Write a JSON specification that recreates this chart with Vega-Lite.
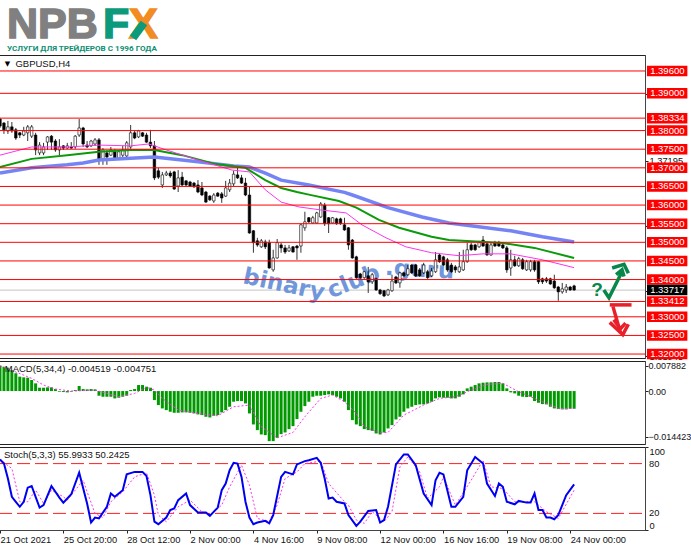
{"$schema":"https://vega.github.io/schema/vega-lite/v6.json","background":"white","padding":{"left":-8,"top":0,"right":0,"bottom":0},"spacing":3,"bounds":"flush",
"config":{"view":{"stroke":"#222","strokeWidth":1},"font":"Liberation Sans","axis":{"grid":false,"title":null,"labelFont":"Liberation Sans","labelFontSize":9.3,"labelColor":"#111","tickColor":"#222","tickSize":3,"labelPadding":1,"domainColor":"#444","labelOverlap":false,"labelBound":false}},
"datasets":{
"bars":[
{"i":0,"o":1.3831,"h":1.3834,"l":1.3807,"c":1.3812},{"i":1,"o":1.3820,"h":1.3823,"l":1.3791,"c":1.3802},{"i":2,"o":1.3799,"h":1.3826,"l":1.3791,"c":1.3810},{"i":3,"o":1.3810,"h":1.3823,"l":1.3794,"c":1.3799},{"i":4,"o":1.3802,"h":1.3807,"l":1.3775,"c":1.3780},{"i":5,"o":1.3794,"h":1.3796,"l":1.3780,"c":1.3788},{"i":6,"o":1.3788,"h":1.3810,"l":1.3785,"c":1.3799},{"i":7,"o":1.3794,"h":1.3815,"l":1.3772,"c":1.3810},{"i":8,"o":1.3785,"h":1.3815,"l":1.3780,"c":1.3810},{"i":9,"o":1.3788,"h":1.3794,"l":1.3734,"c":1.3748},
{"i":10,"o":1.3740,"h":1.3769,"l":1.3734,"c":1.3761},{"i":11,"o":1.3740,"h":1.3767,"l":1.3734,"c":1.3756},{"i":12,"o":1.3769,"h":1.3785,"l":1.3748,"c":1.3783},{"i":13,"o":1.3785,"h":1.3788,"l":1.3748,"c":1.3769},{"i":14,"o":1.3772,"h":1.3777,"l":1.3743,"c":1.3748},{"i":15,"o":1.3748,"h":1.3777,"l":1.3734,"c":1.3756},{"i":16,"o":1.3759,"h":1.3761,"l":1.3748,"c":1.3753},{"i":17,"o":1.3753,"h":1.3767,"l":1.3751,"c":1.3759},{"i":18,"o":1.3756,"h":1.3769,"l":1.3751,"c":1.3753},{"i":19,"o":1.3756,"h":1.3788,"l":1.3751,"c":1.3785},
{"i":20,"o":1.3788,"h":1.3831,"l":1.3783,"c":1.3807},{"i":21,"o":1.3807,"h":1.3810,"l":1.3756,"c":1.3764},{"i":22,"o":1.3761,"h":1.3772,"l":1.3753,"c":1.3756},{"i":23,"o":1.3759,"h":1.3775,"l":1.3756,"c":1.3772},{"i":24,"o":1.3764,"h":1.3780,"l":1.3759,"c":1.3775},{"i":25,"o":1.3775,"h":1.3780,"l":1.3708,"c":1.3721},{"i":26,"o":1.3721,"h":1.3753,"l":1.3708,"c":1.3748},{"i":27,"o":1.3740,"h":1.3748,"l":1.3708,"c":1.3729},{"i":28,"o":1.3734,"h":1.3756,"l":1.3732,"c":1.3748},{"i":29,"o":1.3743,"h":1.3751,"l":1.3724,"c":1.3726},
{"i":30,"o":1.3726,"h":1.3745,"l":1.3724,"c":1.3743},{"i":31,"o":1.3734,"h":1.3759,"l":1.3721,"c":1.3748},{"i":32,"o":1.3732,"h":1.3772,"l":1.3729,"c":1.3767},{"i":33,"o":1.3756,"h":1.3815,"l":1.3751,"c":1.3794},{"i":34,"o":1.3794,"h":1.3799,"l":1.3777,"c":1.3780},{"i":35,"o":1.3783,"h":1.3802,"l":1.3780,"c":1.3799},{"i":36,"o":1.3794,"h":1.3796,"l":1.3783,"c":1.3785},{"i":37,"o":1.3788,"h":1.3794,"l":1.3767,"c":1.3769},{"i":38,"o":1.3769,"h":1.3802,"l":1.3753,"c":1.3759},{"i":39,"o":1.3759,"h":1.3772,"l":1.3667,"c":1.3673},
{"i":40,"o":1.3692,"h":1.3700,"l":1.3670,"c":1.3675},{"i":41,"o":1.3654,"h":1.3689,"l":1.3646,"c":1.3681},{"i":42,"o":1.3681,"h":1.3692,"l":1.3678,"c":1.3686},{"i":43,"o":1.3686,"h":1.3692,"l":1.3673,"c":1.3678},{"i":44,"o":1.3689,"h":1.3692,"l":1.3641,"c":1.3643},{"i":45,"o":1.3651,"h":1.3694,"l":1.3635,"c":1.3673},{"i":46,"o":1.3675,"h":1.3689,"l":1.3651,"c":1.3654},{"i":47,"o":1.3665,"h":1.3667,"l":1.3651,"c":1.3654},{"i":48,"o":1.3662,"h":1.3665,"l":1.3649,"c":1.3651},{"i":49,"o":1.3659,"h":1.3662,"l":1.3646,"c":1.3649},
{"i":50,"o":1.3654,"h":1.3667,"l":1.3632,"c":1.3635},{"i":51,"o":1.3646,"h":1.3662,"l":1.3624,"c":1.3627},{"i":52,"o":1.3635,"h":1.3638,"l":1.3606,"c":1.3608},{"i":53,"o":1.3624,"h":1.3627,"l":1.3611,"c":1.3614},{"i":54,"o":1.3611,"h":1.3632,"l":1.3606,"c":1.3627},{"i":55,"o":1.3632,"h":1.3635,"l":1.3622,"c":1.3624},{"i":56,"o":1.3630,"h":1.3635,"l":1.3606,"c":1.3619},{"i":57,"o":1.3624,"h":1.3665,"l":1.3622,"c":1.3646},{"i":58,"o":1.3641,"h":1.3670,"l":1.3635,"c":1.3659},{"i":59,"o":1.3657,"h":1.3692,"l":1.3651,"c":1.3683},
{"i":60,"o":1.3681,"h":1.3700,"l":1.3670,"c":1.3673},{"i":61,"o":1.3673,"h":1.3681,"l":1.3657,"c":1.3659},{"i":62,"o":1.3659,"h":1.3673,"l":1.3624,"c":1.3627},{"i":63,"o":1.3627,"h":1.3651,"l":1.3523,"c":1.3525},{"i":64,"o":1.3531,"h":1.3533,"l":1.3472,"c":1.3499},{"i":65,"o":1.3504,"h":1.3512,"l":1.3488,"c":1.3493},{"i":66,"o":1.3488,"h":1.3509,"l":1.3485,"c":1.3504},{"i":67,"o":1.3501,"h":1.3507,"l":1.3482,"c":1.3488},{"i":68,"o":1.3499,"h":1.3507,"l":1.3429,"c":1.3431},{"i":69,"o":1.3426,"h":1.3480,"l":1.3421,"c":1.3458},
{"i":70,"o":1.3458,"h":1.3509,"l":1.3456,"c":1.3499},{"i":71,"o":1.3493,"h":1.3499,"l":1.3472,"c":1.3485},{"i":72,"o":1.3485,"h":1.3493,"l":1.3469,"c":1.3474},{"i":73,"o":1.3477,"h":1.3493,"l":1.3474,"c":1.3485},{"i":74,"o":1.3488,"h":1.3490,"l":1.3472,"c":1.3474},{"i":75,"o":1.3490,"h":1.3493,"l":1.3453,"c":1.3485},{"i":76,"o":1.3490,"h":1.3550,"l":1.3472,"c":1.3547},{"i":77,"o":1.3539,"h":1.3582,"l":1.3531,"c":1.3555},{"i":78,"o":1.3566,"h":1.3568,"l":1.3552,"c":1.3555},{"i":79,"o":1.3552,"h":1.3571,"l":1.3550,"c":1.3566},
{"i":80,"o":1.3552,"h":1.3582,"l":1.3550,"c":1.3579},{"i":81,"o":1.3568,"h":1.3608,"l":1.3566,"c":1.3603},{"i":82,"o":1.3600,"h":1.3606,"l":1.3544,"c":1.3550},{"i":83,"o":1.3566,"h":1.3568,"l":1.3525,"c":1.3550},{"i":84,"o":1.3552,"h":1.3568,"l":1.3550,"c":1.3566},{"i":85,"o":1.3563,"h":1.3566,"l":1.3547,"c":1.3550},{"i":86,"o":1.3563,"h":1.3566,"l":1.3547,"c":1.3550},{"i":87,"o":1.3547,"h":1.3566,"l":1.3531,"c":1.3533},{"i":88,"o":1.3539,"h":1.3541,"l":1.3480,"c":1.3493},{"i":89,"o":1.3506,"h":1.3509,"l":1.3456,"c":1.3458},
{"i":90,"o":1.3461,"h":1.3464,"l":1.3402,"c":1.3405},{"i":91,"o":1.3415,"h":1.3418,"l":1.3402,"c":1.3405},{"i":92,"o":1.3405,"h":1.3423,"l":1.3402,"c":1.3421},{"i":93,"o":1.3410,"h":1.3434,"l":1.3364,"c":1.3394},{"i":94,"o":1.3394,"h":1.3418,"l":1.3388,"c":1.3413},{"i":95,"o":1.3402,"h":1.3405,"l":1.3370,"c":1.3372},{"i":96,"o":1.3372,"h":1.3375,"l":1.3359,"c":1.3362},{"i":97,"o":1.3370,"h":1.3372,"l":1.3353,"c":1.3356},{"i":98,"o":1.3359,"h":1.3375,"l":1.3356,"c":1.3372},{"i":99,"o":1.3370,"h":1.3413,"l":1.3367,"c":1.3396},
{"i":100,"o":1.3407,"h":1.3410,"l":1.3388,"c":1.3391},{"i":101,"o":1.3391,"h":1.3421,"l":1.3378,"c":1.3418},{"i":102,"o":1.3418,"h":1.3421,"l":1.3407,"c":1.3410},{"i":103,"o":1.3413,"h":1.3439,"l":1.3410,"c":1.3429},{"i":104,"o":1.3439,"h":1.3442,"l":1.3415,"c":1.3418},{"i":105,"o":1.3439,"h":1.3442,"l":1.3407,"c":1.3410},{"i":106,"o":1.3426,"h":1.3431,"l":1.3407,"c":1.3410},{"i":107,"o":1.3418,"h":1.3445,"l":1.3415,"c":1.3439},{"i":108,"o":1.3421,"h":1.3426,"l":1.3402,"c":1.3405},{"i":109,"o":1.3410,"h":1.3431,"l":1.3407,"c":1.3423},
{"i":110,"o":1.3421,"h":1.3474,"l":1.3418,"c":1.3453},{"i":111,"o":1.3466,"h":1.3469,"l":1.3445,"c":1.3448},{"i":112,"o":1.3461,"h":1.3464,"l":1.3437,"c":1.3439},{"i":113,"o":1.3453,"h":1.3458,"l":1.3421,"c":1.3426},{"i":114,"o":1.3439,"h":1.3445,"l":1.3418,"c":1.3421},{"i":115,"o":1.3434,"h":1.3439,"l":1.3418,"c":1.3426},{"i":116,"o":1.3421,"h":1.3474,"l":1.3418,"c":1.3434},{"i":117,"o":1.3426,"h":1.3480,"l":1.3423,"c":1.3448},{"i":118,"o":1.3448,"h":1.3499,"l":1.3445,"c":1.3480},{"i":119,"o":1.3493,"h":1.3499,"l":1.3477,"c":1.3480},
{"i":120,"o":1.3493,"h":1.3496,"l":1.3477,"c":1.3480},{"i":121,"o":1.3488,"h":1.3504,"l":1.3485,"c":1.3499},{"i":122,"o":1.3506,"h":1.3517,"l":1.3488,"c":1.3490},{"i":123,"o":1.3496,"h":1.3501,"l":1.3464,"c":1.3466},{"i":124,"o":1.3466,"h":1.3499,"l":1.3464,"c":1.3493},{"i":125,"o":1.3499,"h":1.3504,"l":1.3488,"c":1.3490},{"i":126,"o":1.3499,"h":1.3504,"l":1.3488,"c":1.3490},{"i":127,"o":1.3493,"h":1.3499,"l":1.3482,"c":1.3485},{"i":128,"o":1.3485,"h":1.3490,"l":1.3418,"c":1.3426},{"i":129,"o":1.3431,"h":1.3480,"l":1.3410,"c":1.3453},
{"i":130,"o":1.3453,"h":1.3464,"l":1.3434,"c":1.3437},{"i":131,"o":1.3437,"h":1.3461,"l":1.3434,"c":1.3456},{"i":132,"o":1.3453,"h":1.3458,"l":1.3426,"c":1.3429},{"i":133,"o":1.3426,"h":1.3453,"l":1.3423,"c":1.3448},{"i":134,"o":1.3426,"h":1.3453,"l":1.3421,"c":1.3448},{"i":135,"o":1.3448,"h":1.3453,"l":1.3421,"c":1.3426},{"i":136,"o":1.3448,"h":1.3450,"l":1.3388,"c":1.3394},{"i":137,"o":1.3402,"h":1.3405,"l":1.3388,"c":1.3394},{"i":138,"o":1.3402,"h":1.3407,"l":1.3391,"c":1.3396},{"i":139,"o":1.3402,"h":1.3405,"l":1.3386,"c":1.3388},
{"i":140,"o":1.3396,"h":1.3413,"l":1.3375,"c":1.3378},{"i":141,"o":1.3380,"h":1.3383,"l":1.3343,"c":1.3367},{"i":142,"o":1.3367,"h":1.3391,"l":1.3362,"c":1.3375},{"i":143,"o":1.3372,"h":1.3388,"l":1.3364,"c":1.3380},{"i":144,"o":1.3380,"h":1.3383,"l":1.3370,"c":1.3372},{"i":145,"o":1.3383,"h":1.3386,"l":1.3370,"c":1.3372}],
"blue":[{"i":0,"p":1.3686},{"i":8,"p":1.3700},{"i":17,"p":1.3708},{"i":21,"p":1.3713},{"i":25,"p":1.3721},{"i":33,"p":1.3726},{"i":39,"p":1.3729},{"i":50,"p":1.3716},{"i":59,"p":1.3705},{"i":63,"p":1.3702},{"i":67,"p":1.3686},{"i":71,"p":1.3667},{"i":78,"p":1.3654},{"i":87,"p":1.3634},{"i":89,"p":1.3627},{"i":98,"p":1.3593},{"i":106.6,"p":1.3568},{"i":113.4,"p":1.3552},{"i":129,"p":1.3531},{"i":137,"p":1.3515},{"i":145,"p":1.3501}],
"green":[{"i":0,"p":1.3702},{"i":8,"p":1.3724},{"i":17,"p":1.3734},{"i":25,"p":1.3743},{"i":33,"p":1.3748},{"i":39,"p":1.3748},{"i":46,"p":1.3734},{"i":54.5,"p":1.3710},{"i":62,"p":1.3700},{"i":67,"p":1.3667},{"i":71,"p":1.3646},{"i":75,"p":1.3635},{"i":78,"p":1.3628},{"i":85.6,"p":1.3611},{"i":90,"p":1.3593},{"i":95.7,"p":1.3560},{"i":100.8,"p":1.3539},{"i":109,"p":1.3515},{"i":113.4,"p":1.3506},{"i":127,"p":1.3498},{"i":135,"p":1.3485},{"i":145,"p":1.3458}],
"pink":[{"i":0,"p":1.3734},{"i":8,"p":1.3756},{"i":17,"p":1.3756},{"i":25,"p":1.3761},{"i":33,"p":1.3759},{"i":37.6,"p":1.3764},{"i":42,"p":1.3748},{"i":50,"p":1.3721},{"i":58.6,"p":1.3694},{"i":63,"p":1.3689},{"i":67,"p":1.3641},{"i":71,"p":1.3608},{"i":75.5,"p":1.3595},{"i":81,"p":1.3587},{"i":87.4,"p":1.3579},{"i":91.4,"p":1.3547},{"i":97.5,"p":1.3512},{"i":102.5,"p":1.3488},{"i":109,"p":1.3472},{"i":116,"p":1.3464},{"i":122,"p":1.3469},{"i":129,"p":1.3469},{"i":137,"p":1.3453},{"i":145,"p":1.3432}],
"levels":[{"p":1.396,"t":"1.39600"},{"p":1.39,"t":"1.39000"},{"p":1.38334,"t":"1.38334"},{"p":1.38,"t":"1.38000"},{"p":1.375,"t":"1.37500"},{"p":1.37,"t":"1.37000"},{"p":1.365,"t":"1.36500"},{"p":1.36,"t":"1.36000"},{"p":1.355,"t":"1.35500"},{"p":1.35,"t":"1.35000"},{"p":1.345,"t":"1.34500"},{"p":1.34,"t":"1.34000"},{"p":1.33412,"t":"1.33412"},{"p":1.33,"t":"1.33000"},{"p":1.325,"t":"1.32500"},{"p":1.32,"t":"1.32000"}],
"tags":[{"p":1.396,"t":"1.39600"},{"p":1.39,"t":"1.39000"},{"p":1.38334,"t":"1.38334"},{"p":1.38,"t":"1.38000"},{"p":1.375,"t":"1.37500"},{"p":1.37,"t":"1.37000"},{"p":1.365,"t":"1.36500"},{"p":1.36,"t":"1.36000"},{"p":1.355,"t":"1.35500"},{"p":1.35,"t":"1.35000"},{"p":1.345,"t":"1.34500"},{"p":1.34,"t":"1.34000"},{"p":1.33717,"t":"1.33717"},{"p":1.33412,"t":"1.33412"},{"p":1.33,"t":"1.33000"},{"p":1.325,"t":"1.32500"},{"p":1.32,"t":"1.32000"}],
"macd":[{"i":0,"m":0.00798},{"i":1,"m":0.00767},{"i":2,"m":0.00735},{"i":3,"m":0.00662},{"i":4,"m":0.00557},{"i":5,"m":0.00452},{"i":6,"m":0.00431},{"i":7,"m":0.0042},{"i":8,"m":0.00347},{"i":9,"m":0.00242},{"i":10,"m":0.00105},{"i":11,"m":0.00105},{"i":12,"m":0.00116},{"i":13,"m":0.00116},{"i":14,"m":0.00063},{"i":15,"m":-0.00021},{"i":16,"m":-0.00032},{"i":17,"m":-0.00042},{"i":18,"m":-0.00021},{"i":19,"m":0.00032},{"i":20,"m":0.00158},{"i":21,"m":0.00063},{"i":22,"m":0.00053},{"i":23,"m":0.00063},{"i":24,"m":0.00053},{"i":25,"m":-0.00147},{"i":26,"m":-0.00179},{"i":27,"m":-0.00179},{"i":28,"m":-0.00179},{"i":29,"m":-0.00231},{"i":30,"m":-0.0021},{"i":31,"m":-0.00179},{"i":32,"m":-0.00147},{"i":33,"m":0.00032},{"i":34,"m":0.00063},{"i":35,"m":0.00189},{"i":36,"m":0.00189},{"i":37,"m":0.00137},{"i":38,"m":0.00105},{"i":39,"m":-0.00284},{"i":40,"m":-0.00441},{"i":41,"m":-0.00546},{"i":42,"m":-0.00599},{"i":43,"m":-0.00651},{"i":44,"m":-0.00683},{"i":45,"m":-0.00683},{"i":46,"m":-0.00672},{"i":47,"m":-0.00672},{"i":48,"m":-0.00683},{"i":49,"m":-0.00704},{"i":50,"m":-0.00735},{"i":51,"m":-0.00756},{"i":52,"m":-0.00809},{"i":53,"m":-0.0083},{"i":54,"m":-0.00777},{"i":55,"m":-0.00756},{"i":56,"m":-0.00672},{"i":57,"m":-0.00599},{"i":58,"m":-0.00494},{"i":59,"m":-0.00336},{"i":60,"m":-0.00315},{"i":61,"m":-0.00315},{"i":62,"m":-0.00389},{"i":63,"m":-0.00704},{"i":64,"m":-0.0105},{"i":65,"m":-0.01229},{"i":66,"m":-0.01365},{"i":67,"m":-0.01386},{"i":68,"m":-0.01575},{"i":69,"m":-0.01575},{"i":70,"m":-0.0147},{"i":71,"m":-0.01355},{"i":72,"m":-0.01302},{"i":73,"m":-0.01197},{"i":74,"m":-0.01103},{"i":75,"m":-0.00882},{"i":76,"m":-0.00651},{"i":77,"m":-0.00473},{"i":78,"m":-0.00336},{"i":79,"m":-0.00179},{"i":80,"m":-0.00147},{"i":81,"m":-0.00147},{"i":82,"m":-0.00126},{"i":83,"m":-0.00105},{"i":84,"m":-0.00126},{"i":85,"m":-0.00179},{"i":86,"m":-0.00231},{"i":87,"m":-0.00336},{"i":88,"m":-0.00599},{"i":89,"m":-0.00914},{"i":90,"m":-0.0105},{"i":91,"m":-0.01103},{"i":92,"m":-0.01197},{"i":93,"m":-0.01229},{"i":94,"m":-0.0125},{"i":95,"m":-0.01334},{"i":96,"m":-0.01365},{"i":97,"m":-0.01302},{"i":98,"m":-0.01176},{"i":99,"m":-0.01071},{"i":100,"m":-0.00893},{"i":101,"m":-0.00809},{"i":102,"m":-0.00651},{"i":103,"m":-0.00546},{"i":104,"m":-0.00494},{"i":105,"m":-0.00441},{"i":106,"m":-0.0042},{"i":107,"m":-0.0042},{"i":108,"m":-0.00389},{"i":109,"m":-0.00336},{"i":110,"m":-0.00231},{"i":111,"m":-0.002},{"i":112,"m":-0.0021},{"i":113,"m":-0.0021},{"i":114,"m":-0.00231},{"i":115,"m":-0.00231},{"i":116,"m":-0.00179},{"i":117,"m":-0.00105},{"i":118,"m":0.00084},{"i":119,"m":0.00137},{"i":120,"m":0.00189},{"i":121,"m":0.00242},{"i":122,"m":0.00263},{"i":123,"m":0.00273},{"i":124,"m":0.00273},{"i":125,"m":0.00284},{"i":126,"m":0.00284},{"i":127,"m":0.00242},{"i":128,"m":0.00084},{"i":129,"m":-0.00042},{"i":130,"m":-0.00074},{"i":131,"m":-0.00147},{"i":132,"m":-0.00179},{"i":133,"m":-0.00189},{"i":134,"m":-0.00179},{"i":135,"m":-0.00315},{"i":136,"m":-0.00368},{"i":137,"m":-0.0041},{"i":138,"m":-0.0042},{"i":139,"m":-0.00494},{"i":140,"m":-0.00546},{"i":141,"m":-0.00567},{"i":142,"m":-0.00578},{"i":143,"m":-0.00578},{"i":144,"m":-0.00557},{"i":145,"m":-0.00557}],
"signal":[{"i":0,"s":0.00798},{"i":8,"s":0.00399},{"i":11,"s":0.00189},{"i":14,"s":0.00063},{"i":18,"s":0},{"i":24,"s":0.00032},{"i":27,"s":-0.00074},{"i":30,"s":-0.00179},{"i":34,"s":-0.00074},{"i":37,"s":0.00116},{"i":39,"s":0.00032},{"i":41,"s":-0.00231},{"i":45,"s":-0.00599},{"i":50,"s":-0.00704},{"i":55,"s":-0.00777},{"i":59,"s":-0.00494},{"i":63,"s":-0.00441},{"i":66,"s":-0.01124},{"i":70,"s":-0.0147},{"i":74,"s":-0.01302},{"i":77,"s":-0.00809},{"i":81,"s":-0.00231},{"i":84,"s":-0.00126},{"i":87,"s":-0.00336},{"i":90,"s":-0.00704},{"i":92,"s":-0.01124},{"i":96,"s":-0.01313},{"i":98,"s":-0.01302},{"i":102,"s":-0.00756},{"i":107,"s":-0.00441},{"i":111,"s":-0.00231},{"i":115,"s":-0.00179},{"i":119,"s":0.00032},{"i":123,"s":0.0021},{"i":127,"s":0.00242},{"i":131,"s":-0.00021},{"i":136,"s":-0.00284},{"i":141,"s":-0.00546},{"i":145,"s":-0.00546}],
"k":[{"i":0,"v":85},{"i":1,"v":80},{"i":2,"v":62},{"i":3,"v":40},{"i":4,"v":34},{"i":5,"v":28},{"i":6,"v":34},{"i":7,"v":51},{"i":8,"v":53},{"i":9,"v":40},{"i":10,"v":27},{"i":11,"v":30},{"i":13,"v":53},{"i":15,"v":39},{"i":16,"v":33},{"i":17,"v":38},{"i":18,"v":43},{"i":20,"v":69},{"i":22,"v":32},{"i":23,"v":9},{"i":24,"v":15},{"i":25,"v":14},{"i":27,"v":28},{"i":28,"v":44},{"i":29,"v":40},{"i":31,"v":48},{"i":32,"v":67},{"i":34,"v":70},{"i":36,"v":70},{"i":37,"v":65},{"i":38,"v":42},{"i":39,"v":10},{"i":40,"v":7},{"i":42,"v":15},{"i":43,"v":24},{"i":44,"v":26},{"i":45,"v":36},{"i":47,"v":44},{"i":48,"v":30},{"i":50,"v":21},{"i":52,"v":21},{"i":53,"v":17},{"i":55,"v":27},{"i":56,"v":48},{"i":57,"v":56},{"i":58,"v":72},{"i":59,"v":81},{"i":60,"v":80},{"i":61,"v":64},{"i":62,"v":34},{"i":63,"v":15},{"i":64,"v":7},{"i":65,"v":9},{"i":67,"v":11},{"i":68,"v":8},{"i":69,"v":18},{"i":71,"v":64},{"i":72,"v":70},{"i":74,"v":67},{"i":75,"v":79},{"i":77,"v":83},{"i":78,"v":84},{"i":80,"v":87},{"i":81,"v":81},{"i":82,"v":62},{"i":83,"v":38},{"i":84,"v":39},{"i":85,"v":34},{"i":87,"v":32},{"i":88,"v":18},{"i":90,"v":5},{"i":91,"v":10},{"i":93,"v":23},{"i":95,"v":24},{"i":96,"v":9},{"i":97,"v":12},{"i":98,"v":28},{"i":100,"v":79},{"i":102,"v":91},{"i":103,"v":91},{"i":105,"v":78},{"i":107,"v":44},{"i":109,"v":30},{"i":110,"v":60},{"i":111,"v":69},{"i":112,"v":67},{"i":114,"v":28},{"i":115,"v":28},{"i":117,"v":40},{"i":118,"v":72},{"i":120,"v":88},{"i":122,"v":80},{"i":123,"v":56},{"i":125,"v":41},{"i":126,"v":56},{"i":127,"v":52},{"i":128,"v":34},{"i":130,"v":31},{"i":131,"v":35},{"i":133,"v":33},{"i":134,"v":33},{"i":135,"v":44},{"i":136,"v":24},{"i":137,"v":24},{"i":138,"v":15},{"i":139,"v":15},{"i":140,"v":13},{"i":141,"v":18},{"i":143,"v":42},{"i":145,"v":55}],
"d":[{"i":0,"v":85},{"i":3,"v":74},{"i":5,"v":34},{"i":7,"v":34},{"i":9,"v":48},{"i":11,"v":32},{"i":13,"v":48},{"i":16,"v":40},{"i":17,"v":36},{"i":21,"v":60},{"i":22,"v":46},{"i":24,"v":20},{"i":26,"v":15},{"i":28,"v":34},{"i":31,"v":46},{"i":34,"v":64},{"i":37,"v":69},{"i":39,"v":42},{"i":40,"v":18},{"i":42,"v":10},{"i":45,"v":28},{"i":48,"v":36},{"i":51,"v":22},{"i":53,"v":18},{"i":56,"v":30},{"i":58,"v":52},{"i":61,"v":78},{"i":63,"v":54},{"i":65,"v":14},{"i":68,"v":10},{"i":70,"v":30},{"i":72,"v":62},{"i":75,"v":70},{"i":77,"v":80},{"i":81,"v":83},{"i":83,"v":56},{"i":87,"v":34},{"i":88,"v":30},{"i":90,"v":12},{"i":92,"v":8},{"i":94,"v":22},{"i":97,"v":10},{"i":99,"v":22},{"i":101,"v":76},{"i":103,"v":88},{"i":106,"v":70},{"i":108,"v":38},{"i":111,"v":52},{"i":112,"v":64},{"i":115,"v":30},{"i":119,"v":60},{"i":122,"v":84},{"i":124,"v":52},{"i":127,"v":50},{"i":130,"v":34},{"i":135,"v":34},{"i":138,"v":22},{"i":141,"v":14},{"i":145,"v":48}],
"arrowUp":[{"s":"a","i":152.5,"p":1.3372},{"s":"a","i":153.8,"p":1.3351},{"s":"a","i":157.1,"p":1.3421},{"s":"b","i":154.6,"p":1.3431},{"s":"b","i":157.6,"p":1.3441},{"s":"b","i":158.7,"p":1.3417},{"s":"c","i":155.6,"p":1.3413},{"s":"c","i":157.1,"p":1.3426},{"s":"c","i":157.6,"p":1.3408}],
"arrowDown":[{"s":"a","i":154,"p":1.3332},{"s":"a","i":159.5,"p":1.3332},{"s":"b","i":154.8,"p":1.3328},{"s":"b","i":156.7,"p":1.3257},{"s":"c","i":154,"p":1.3285},{"s":"c","i":157.3,"p":1.3252},{"s":"c","i":158.7,"p":1.3280},{"s":"d","i":155,"p":1.3292},{"s":"d","i":156.7,"p":1.3268},{"s":"d","i":158,"p":1.3283}]
},
"vconcat":[
{"width":691,"height":52,"view":{"stroke":null},
"layer":[
{"data":{"values":[{"t":"NPB"}]},"mark":{"type":"text","align":"left","baseline":"alphabetic","font":"Liberation Sans","fontWeight":"bold","fontSize":43,"color":"#808080","stroke":"#808080","strokeWidth":1.5},"encoding":{"x":{"datum":8,"type":"quantitative","scale":{"domain":[0,691],"nice":false},"axis":null},"y":{"datum":38,"type":"quantitative","scale":{"domain":[52,0],"nice":false},"axis":null},"text":{"field":"t"}}},
{"data":{"values":[{"t":"F"}]},"mark":{"type":"text","align":"left","baseline":"alphabetic","font":"Liberation Sans","fontWeight":"bold","fontSize":43,"color":"#0b9b7c","stroke":"#0b9b7c","strokeWidth":1.5},"encoding":{"x":{"datum":104,"type":"quantitative","scale":{"domain":[0,691],"nice":false},"axis":null},"y":{"datum":38,"type":"quantitative","scale":{"domain":[52,0],"nice":false},"axis":null},"text":{"field":"t"}}},
{"data":{"values":[{"t":"X"}]},"mark":{"type":"text","align":"left","baseline":"alphabetic","font":"Liberation Sans","fontWeight":"bold","fontSize":43,"color":"#f28c22","stroke":"#f28c22","strokeWidth":1.5},"encoding":{"x":{"datum":130,"type":"quantitative","scale":{"domain":[0,691],"nice":false},"axis":null},"y":{"datum":38,"type":"quantitative","scale":{"domain":[52,0],"nice":false},"axis":null},"text":{"field":"t"}}},
{"data":{"values":[{"x":134,"y":38},{"x":145,"y":23}]},"mark":{"type":"line","color":"#0b9b7c","strokeWidth":8},"encoding":{"x":{"field":"x","type":"quantitative","scale":{"domain":[0,691],"nice":false},"axis":null},"y":{"field":"y","type":"quantitative","scale":{"domain":[52,0],"nice":false},"axis":null}}},
{"data":{"values":[{"t":"УСЛУГИ ДЛЯ ТРЕЙДЕРОВ С 1996 ГОДА"}]},"mark":{"type":"text","align":"left","baseline":"alphabetic","font":"Roboto","fontWeight":"bold","fontSize":8.1,"color":"#0d8f73"},"encoding":{"x":{"datum":8,"type":"quantitative","scale":{"domain":[0,691],"nice":false},"axis":null},"y":{"datum":51,"type":"quantitative","scale":{"domain":[52,0],"nice":false},"axis":null},"text":{"field":"t"}}}
]},
{"width":646,"height":303,
"layer":[
{"data":{"values":[{"p":1.33717}]},"mark":{"type":"rule","color":"#c4c4c4","strokeWidth":1},"encoding":{"x":{"datum":-0.25,"type":"quantitative","scale":{"domain":[-0.25,162.9],"nice":false,"zero":false,"padding":0},"axis":null},"x2":{"datum":162.9},"y":{"field":"p","type":"quantitative","title":null,"scale":{"domain":[1.31894,1.40029],"nice":false,"zero":false,"padding":0},"axis":{"orient":"right","title":null,"values":[1.39845,1.3897,1.38095,1.37195,1.3632,1.35445,1.3457,1.33695,1.3282,1.31945],"format":".5f"}}}},
{"data":{"values":[{"t":"binary","i":71.7,"p":1.3386}]},"mark":{"type":"text","font":"DejaVu Sans","fontWeight":"bold","fontSize":23,"angle":12,"color":"#7097db"},"encoding":{"x":{"field":"i","type":"quantitative"},"y":{"field":"p","type":"quantitative"},"text":{"field":"t"}}},
{"data":{"values":[{"t":"club","i":89.3,"p":1.3394}]},"mark":{"type":"text","font":"DejaVu Sans","fontWeight":"bold","fontSize":23,"angle":-22,"color":"#7097db"},"encoding":{"x":{"field":"i","type":"quantitative"},"y":{"field":"p","type":"quantitative"},"text":{"field":"t"}}},
{"data":{"values":[{"t":".guru","i":106,"p":1.3426}]},"mark":{"type":"text","font":"DejaVu Sans","fontWeight":"bold","fontSize":23,"angle":3,"color":"#7097db"},"encoding":{"x":{"field":"i","type":"quantitative"},"y":{"field":"p","type":"quantitative"},"text":{"field":"t"}}},
{"data":{"name":"bars"},"mark":{"type":"rule","color":"#000","strokeWidth":0.8},"encoding":{"x":{"field":"i","type":"quantitative"},"y":{"field":"l","type":"quantitative"},"y2":{"field":"h"}}},
{"data":{"name":"bars"},"mark":{"type":"bar","orient":"vertical","size":2.5,"stroke":"#000","strokeWidth":0.6},"encoding":{"x":{"field":"i","type":"quantitative"},"y":{"field":"o","type":"quantitative"},"y2":{"field":"c"},"fill":{"condition":{"test":"datum.c<datum.o","value":"#000"},"value":"#fff"}}},
{"data":{"name":"blue"},"mark":{"type":"line","color":"#7484f4","strokeWidth":3.5},"encoding":{"x":{"field":"i","type":"quantitative"},"y":{"field":"p","type":"quantitative"}}},
{"data":{"name":"green"},"mark":{"type":"line","color":"#0a9a0a","strokeWidth":2},"encoding":{"x":{"field":"i","type":"quantitative"},"y":{"field":"p","type":"quantitative"}}},
{"data":{"name":"pink"},"mark":{"type":"line","color":"#ff33ee","strokeWidth":1},"encoding":{"x":{"field":"i","type":"quantitative"},"y":{"field":"p","type":"quantitative"}}},
{"data":{"name":"levels"},"mark":{"type":"rule","color":"#ff0000","strokeWidth":1},"encoding":{"x":{"datum":-0.25,"type":"quantitative"},"x2":{"datum":162.9},"y":{"field":"p","type":"quantitative"}}},
{"data":{"name":"arrowUp"},"mark":{"type":"line","color":"#07884a","strokeWidth":3.5},"encoding":{"detail":{"field":"s"},"x":{"field":"i","type":"quantitative"},"y":{"field":"p","type":"quantitative"}}},
{"data":{"name":"arrowDown"},"mark":{"type":"line","color":"#e8202a","strokeWidth":3.5},"encoding":{"detail":{"field":"s"},"x":{"field":"i","type":"quantitative"},"y":{"field":"p","type":"quantitative"}}},
{"data":{"values":[{"t":"?","i":150.8,"p":1.3372}]},"mark":{"type":"text","font":"Liberation Sans","fontWeight":"bold","fontSize":19,"color":"#07884a"},"encoding":{"x":{"field":"i","type":"quantitative"},"y":{"field":"p","type":"quantitative"},"text":{"field":"t"}}},
{"data":{"name":"tags"},"mark":{"type":"bar","orient":"horizontal","size":10.5},"encoding":{"x":{"datum":163.4,"type":"quantitative"},"x2":{"datum":173.6},"y":{"field":"p","type":"quantitative"},"fill":{"condition":{"test":"datum.p==1.33717","value":"#000"},"value":"#ff0000"}}},
{"data":{"name":"tags"},"mark":{"type":"text","align":"left","font":"Liberation Sans","fontSize":9.5,"color":"#fff"},"encoding":{"x":{"datum":164.2,"type":"quantitative"},"y":{"field":"p","type":"quantitative"},"text":{"field":"t"}}},
{"data":{"values":[{"t":"GBPUSD,H4","i":3.9,"p":1.3980}]},"mark":{"type":"text","align":"left","font":"Liberation Sans","fontSize":9.5,"color":"#111"},"encoding":{"x":{"field":"i","type":"quantitative"},"y":{"field":"p","type":"quantitative"},"text":{"field":"t"}}},
{"data":{"values":[{"t":"▼","i":1.2,"p":1.3980}]},"mark":{"type":"text","align":"left","font":"DejaVu Sans","fontSize":7,"color":"#000"},"encoding":{"x":{"field":"i","type":"quantitative"},"y":{"field":"p","type":"quantitative"},"text":{"field":"t"}}}
]},
{"width":646,"height":83,
"encoding":{"x":{"field":"i","type":"quantitative","scale":{"domain":[-0.25,162.9],"nice":false,"zero":false,"padding":0},"axis":null}},
"layer":[
{"data":{"name":"macd"},"mark":{"type":"bar","orient":"vertical","size":3,"color":"#009a00"},"encoding":{"y":{"field":"m","type":"quantitative","scale":{"domain":[-0.01665,0.00945],"nice":false,"zero":false,"padding":0},"axis":{"orient":"right","title":null,"labelFontSize":9,"labelPadding":0,"values":[0.007882,0,-0.014423],"labelExpr":"datum.value==0?'0.00':format(datum.value,'.6f')"}},"y2":{"datum":0}}},
{"data":{"name":"signal"},"mark":{"type":"line","color":"#ff33ee","strokeWidth":1,"strokeDash":[2,2]},"encoding":{"y":{"field":"s","type":"quantitative"}}},
{"data":{"values":[{"t":"MACD(5,34,4) -0.004519 -0.004751","i":1.2,"m":0.0069}]},"mark":{"type":"text","align":"left","font":"Liberation Sans","fontSize":9.5,"color":"#111"},"encoding":{"y":{"field":"m","type":"quantitative"},"text":{"field":"t"}}}
]},
{"width":646,"height":83,
"layer":[
{"data":{"values":[{"v":80},{"v":20}]},"mark":{"type":"rule","color":"#ff2020","strokeWidth":1,"strokeDash":[13,5]},"encoding":{"x":{"datum":-0.25,"type":"quantitative","scale":{"domain":[-0.25,162.9],"nice":false,"zero":false,"padding":0},"axis":{"orient":"bottom","title":null,"values":[0,16,32,48,64,80,96,112,128,144],"labelExpr":"['21 Oct 2021','25 Oct 20:00','28 Oct 12:00','2 Nov 00:00','4 Nov 16:00','9 Nov 08:00','12 Nov 00:00','16 Nov 16:00','19 Nov 08:00','24 Nov 00:00'][datum.value/16]","labelAlign":"left","labelFlush":false,"labelPadding":2}},"x2":{"datum":162.9},"y":{"field":"v","type":"quantitative","scale":{"domain":[0,100],"nice":false},"axis":{"orient":"right","title":null,"values":[0,100],"labelOverlap":false,"labelBaseline":{"condition":[{"test":"datum.value==100","value":"top"},{"test":"datum.value==0","value":"bottom"}],"value":"middle"}}}}},
{"data":{"values":[{"v":80,"t":"80"},{"v":20,"t":"20"}]},"mark":{"type":"text","align":"left","font":"Liberation Sans","fontSize":9.3,"color":"#111"},"encoding":{"x":{"datum":163.9,"type":"quantitative"},"y":{"field":"v","type":"quantitative"},"text":{"field":"t"}}},
{"data":{"name":"d"},"mark":{"type":"line","color":"#ff33ee","strokeWidth":1,"strokeDash":[2,2]},"encoding":{"x":{"field":"i","type":"quantitative"},"y":{"field":"v","type":"quantitative"}}},
{"data":{"name":"k"},"mark":{"type":"line","color":"#0000f0","strokeWidth":2},"encoding":{"x":{"field":"i","type":"quantitative"},"y":{"field":"v","type":"quantitative"}}},
{"data":{"values":[{"t":"Stoch(5,3,3) 55.9933 50.2425","i":1,"v":90}]},"mark":{"type":"text","align":"left","font":"Liberation Sans","fontSize":9.5,"color":"#111"},"encoding":{"x":{"field":"i","type":"quantitative"},"y":{"field":"v","type":"quantitative"},"text":{"field":"t"}}}
]}
]}
